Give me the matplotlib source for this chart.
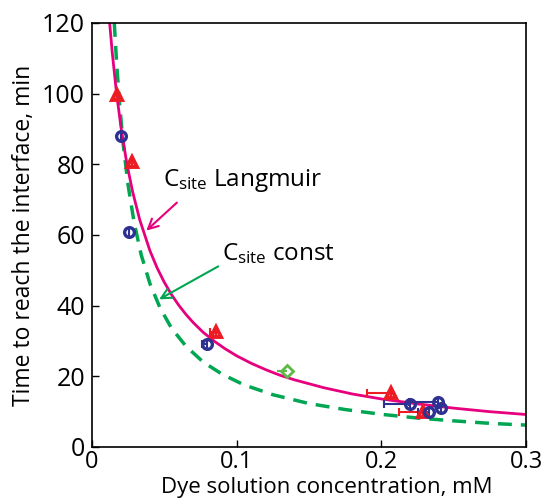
import numpy as np
import matplotlib
matplotlib.use("Agg")
import matplotlib.pyplot as plt

plt.rcParams['font.family'] = ['Open Sans', 'DejaVu Sans']
plt.rcParams['mathtext.fontset'] = 'custom'
plt.rcParams['mathtext.rm'] = 'Open Sans'
plt.rcParams['mathtext.it'] = 'Open Sans'

# model curves
langmuir_c = [0.0122, 0.014, 0.017, 0.020, 0.024, 0.028, 0.033, 0.040, 0.045, 0.050,
              0.055, 0.060, 0.065, 0.070, 0.077, 0.085, 0.092, 0.100, 0.110, 0.120,
              0.130, 0.140, 0.160, 0.180, 0.200, 0.225, 0.250, 0.275, 0.300]
langmuir_t = [120, 111.6, 100, 90.6, 80.4, 72.4, 64.3, 55.6, 50.7, 46.6,
              43.1, 40.1, 37.5, 35.2, 32.4, 29.8, 27.8, 25.8, 23.7, 21.9,
              20.3, 19.0, 16.8, 15.0, 13.6, 12.2, 11.0, 10.0, 9.2]
const_c = [0.0154, 0.017, 0.019, 0.0215, 0.025, 0.029, 0.034, 0.040, 0.047, 0.055,
           0.065, 0.077, 0.090, 0.105, 0.125, 0.150, 0.175, 0.200, 0.225, 0.250,
           0.275, 0.300]
const_t = [120, 108.8, 97.4, 86, 74, 63.8, 54.4, 46.3, 39.4, 33.6,
           28.5, 24.0, 20.6, 17.6, 14.8, 12.3, 10.6, 9.25, 8.2, 7.4,
           6.7, 6.2]

# measurements (x error only on the low side)
red_c = [0.017, 0.0274, 0.0857, 0.2064, 0.229]
red_t = [99.6, 80.8, 32.6, 15.4, 10.0]
red_err = [0.0, 0.0, 0.004, 0.016, 0.017]

blue_c = [0.0198, 0.0258, 0.0793, 0.2198, 0.2393, 0.2415, 0.233]
blue_t = [88.0, 60.9, 29.2, 12.2, 12.8, 10.9, 10.0]
blue_err = [0.0, 0.0, 0.003, 0.018, 0.020, 0.0, 0.008]

green_c = [0.135]
green_t = [21.6]
green_err = [0.007]

magenta = '#e6007e'
dgreen = '#00a651'
red = '#ed1c24'
navy = '#2e3192'
lgreen = '#5cb946'

fig = plt.figure(figsize=(5.44, 5.04), dpi=100)
ax = fig.add_axes([92 / 544, 57 / 504, 434 / 544, 424 / 504])

ax.plot(const_c, const_t, color=dgreen, lw=2.5, ls=(0, (4, 2.6)))
ax.plot(langmuir_c, langmuir_t, color=magenta, lw=2)

ax.errorbar(red_c, red_t, xerr=[red_err, [0] * len(red_c)], fmt='none',
            ecolor=red, elinewidth=1.5, capsize=3, capthick=1.5)
ax.errorbar(blue_c, blue_t, xerr=[blue_err, [0] * len(blue_c)], fmt='none',
            ecolor=navy, elinewidth=1.5, capsize=3, capthick=1.5)
ax.errorbar(green_c, green_t, xerr=[green_err, [0]], fmt='none',
            ecolor=lgreen, elinewidth=1.5)

ax.plot(red_c, red_t, '^', color=red, ms=7.5, mfc='none', mew=2.8)
ax.plot(blue_c, blue_t, 'o', color=navy, ms=7, mfc='none', mew=2.4)
ax.plot(green_c, green_t, 'D', color=lgreen, ms=6, mfc='none', mew=2)

ax.annotate('', xy=(0.0361, 60.7), xytext=(0.0601, 69.7),
            arrowprops=dict(arrowstyle='->', color=magenta, lw=1.5,
                            mutation_scale=18))
ax.text(0.0489, 73.9, r'$C_{\rm site}$ Langmuir', fontsize=17.5)
ax.annotate('', xy=(0.0447, 41.4), xytext=(0.0889, 51.5),
            arrowprops=dict(arrowstyle='->', color=dgreen, lw=1.5,
                            mutation_scale=18))
ax.text(0.0896, 52.8, r'$C_{\rm site}$ const', fontsize=17.5)

ax.set_xlim(0, 0.3)
ax.set_ylim(0, 120)
ax.set_xticks([0, 0.1, 0.2, 0.3])
ax.set_xticklabels(['0', '0.1', '0.2', '0.3'])
ax.set_yticks([0, 20, 40, 60, 80, 100, 120])
ax.tick_params(direction='in', length=5, width=1, labelsize=18, pad=5)
ax.tick_params(axis='x', labelsize=17, pad=2)
for s in ax.spines.values():
    s.set_linewidth(1.2)

ax.set_xlabel('Dye solution concentration, mM', fontsize=16)
ax.xaxis.set_label_coords(0.54, -0.07)
ax.set_ylabel('Time to reach the interface, min', fontsize=16.5, labelpad=4)

fig.savefig('out.png', dpi=100)
